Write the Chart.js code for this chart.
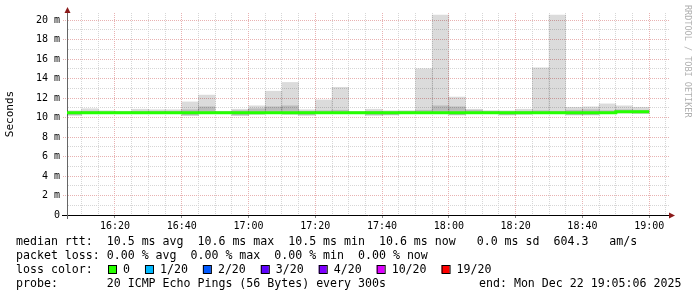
<!DOCTYPE html>
<html>
<head>
<meta charset="utf-8">
<script src="https://cdn.jsdelivr.net/npm/chart.js@4/dist/chart.umd.min.js"></script>
<style>
  body { margin: 0; background: #fff; }
  #wrap { width: 697px; height: 297px; }
</style>
</head>
<body>
<div id="wrap"><canvas id="smoke" width="697" height="297"></canvas></div>
<script>
// 5 minute steps, start time of each step
const binStart = ['16:05','16:10','16:15','16:20','16:25','16:30','16:35','16:40','16:45','16:50','16:55',
                  '17:00','17:05','17:10','17:15','17:20','17:25','17:30','17:35','17:40','17:45','17:50','17:55',
                  '18:00','18:05','18:10','18:15','18:20','18:25','18:30','18:35','18:40','18:45','18:50','18:55'];
// ms
const median  = [10.5,10.5,10.5,10.5,10.5,10.5,10.5,10.5,10.5,10.5,10.5,10.5,10.5,10.5,10.5,10.5,10.5,10.5,
                 10.5,10.5,10.5,10.5,10.5,10.5,10.5,10.5,10.5,10.5,10.5,10.5,10.5,10.5,10.5,10.6,10.6];
const pingMin = [10.2,10.4,10.4,10.4,10.4,10.4,10.4,10.2,10.4,10.4,10.2,10.3,10.4,10.3,10.2,10.4,10.4,10.4,
                 10.2,10.25,10.4,10.4,10.4,10.25,10.4,10.4,10.25,10.3,10.4,10.4,10.25,10.25,10.4,10.45,10.4];
const pingMax = [10.7,10.9,10.7,10.65,10.85,10.8,10.8,11.6,12.3,10.65,10.85,11.2,12.7,13.6,10.8,11.8,13.1,10.6,
                 10.85,10.7,10.7,15.0,20.5,12.1,10.85,10.7,10.7,10.85,15.1,20.5,11.05,11.1,11.4,11.2,11.05];
const innerLo = [10.3,10.45,10.45,10.45,10.45,10.45,10.45,10.25,10.45,10.45,10.25,10.4,10.45,10.4,10.3,10.45,10.45,10.45,
                 10.3,10.3,10.45,10.45,10.45,10.3,10.45,10.45,10.3,10.4,10.45,10.45,10.3,10.3,10.45,10.5,10.45];
const innerHi = [10.6,10.65,10.6,10.6,10.65,10.65,10.65,10.8,11.1,10.6,10.7,10.9,11.1,11.2,10.65,10.7,10.75,10.6,
                 10.65,10.6,10.65,10.75,11.2,11.1,10.75,10.65,10.6,10.65,10.7,10.65,10.75,10.8,10.7,10.8,10.75];

const yTickLabels = [0, 2, 4, 6, 8, 10, 12, 14, 16, 18, 20];
const xTickLabels = ['16:20','16:40','17:00','17:20','17:40','18:00','18:20','18:40','19:00'];

const rttLine  = 'median rtt:  10.5 ms avg  10.6 ms max  10.5 ms min  10.6 ms now   0.0 ms sd  604.3   am/s';
const lossLine = 'packet loss: 0.00 % avg  0.00 % max  0.00 % min  0.00 % now';
const lossLabels = ['0', '1/20', '2/20', '3/20', '4/20', '10/20', '19/20'];
const lossColors = ['#26ff00', '#00b8ff', '#0059ff', '#5e00ff', '#7e00ff', '#dd00ff', '#ff0000'];
const probeLine = 'probe:       20 ICMP Echo Pings (56 Bytes) every 300s';
const endLine   = 'end: Mon Dec 22 19:05:06 2025';

function toMin(s) {
  const p = s.split(':');
  return +p[0] * 60 + +p[1];
}
function fmt(v) {
  const h = Math.floor(v / 60), m = Math.round(v % 60);
  return h + ':' + (m < 10 ? '0' : '') + m;
}

const MONO = '"DejaVu Sans Mono", monospace';
const MGRID = '#e8b2b2';
const GRID = '#d6d6d6';

const medianPts = binStart.map((t, i) => ({ x: toMin(t), y: median[i] }));
medianPts.push({ x: toMin(binStart[binStart.length - 1]) + 5, y: median[median.length - 1] });

const decor = {
  id: 'decor',
  afterDraw(chart) {
    const ctx = chart.ctx;
    const a = chart.chartArea;
    ctx.save();
    // axis extensions + arrows
    ctx.strokeStyle = '#000';
    ctx.lineWidth = 1;
    ctx.beginPath();
    ctx.moveTo(62, a.bottom + 0.5); ctx.lineTo(a.left, a.bottom + 0.5);
    ctx.stroke();
    ctx.strokeStyle = '#666';
    ctx.beginPath();
    ctx.moveTo(a.left + 0.5, a.bottom); ctx.lineTo(a.left + 0.5, a.bottom + 4);
    ctx.moveTo(a.left + 0.5, a.top); ctx.lineTo(a.left + 0.5, a.top - 2);
    ctx.stroke();
    ctx.fillStyle = '#8b1a1a';
    ctx.beginPath();
    ctx.moveTo(a.left + 0.5, a.top - 6); ctx.lineTo(a.left - 2.5, a.top); ctx.lineTo(a.left + 3.5, a.top);
    ctx.closePath(); ctx.fill();
    ctx.beginPath();
    ctx.moveTo(a.right + 6, a.bottom + 0.5); ctx.lineTo(a.right, a.bottom - 2.5); ctx.lineTo(a.right, a.bottom + 3.5);
    ctx.closePath(); ctx.fill();

    // watermark
    ctx.save();
    ctx.translate(687, 5);
    ctx.rotate(Math.PI / 2);
    ctx.font = '8.5px ' + MONO;
    ctx.fillStyle = '#b0b0b0';
    ctx.textBaseline = 'middle';
    ctx.fillText('RRDTOOL / TOBI OETIKER', 0, 0);
    ctx.restore();

    // legend block
    ctx.font = '11.6px ' + MONO;
    ctx.fillStyle = '#000';
    ctx.textBaseline = 'middle';
    ctx.fillText(rttLine, 16, 241.5);
    ctx.fillText(lossLine, 16, 255.5);
    ctx.fillText('loss color:', 16, 269.5);
    ctx.fillText(probeLine, 16, 283.5);
    ctx.fillText(endLine, 479, 283.5);
    let x = 108;
    lossLabels.forEach((lab, i) => {
      ctx.fillStyle = lossColors[i];
      ctx.fillRect(x, 265, 8, 8);
      ctx.strokeStyle = '#000';
      ctx.strokeRect(x + 0.5, 265.5, 8, 8);
      ctx.fillStyle = '#000';
      ctx.fillText(lab, x + 15, 269.5);
      x += 15 + ctx.measureText(lab).width + 15;
    });
    ctx.restore();
  }
};

new Chart(document.getElementById('smoke'), {
  type: 'bar',
  data: {
    datasets: [
      {
        type: 'line',
        label: 'median rtt',
        data: medianPts,
        borderColor: '#26ff00',
        borderWidth: 3,
        pointRadius: 0,
        stepped: true,
        fill: false
      },
      {
        label: 'inner smoke',
        data: binStart.map((t, i) => ({ x: toMin(t) + 2.5, y: [innerLo[i], innerHi[i]] })),
        backgroundColor: 'rgba(0,0,0,0.15)',
        borderWidth: 0,
        grouped: false,
        barPercentage: 1,
        categoryPercentage: 1
      },
      {
        label: 'smoke',
        data: binStart.map((t, i) => ({ x: toMin(t) + 2.5, y: [pingMin[i], pingMax[i]] })),
        backgroundColor: 'rgba(0,0,0,0.14)',
        borderWidth: 0,
        grouped: false,
        barPercentage: 1,
        categoryPercentage: 1
      }
    ]
  },
  options: {
    responsive: false,
    animation: false,
    layout: { padding: { left: 0, right: 28, top: 13, bottom: 0 } },
    plugins: { legend: { display: false }, tooltip: { enabled: false } },
    scales: {
      x: {
        type: 'linear',
        min: 965.63,
        max: 1145.93,
        offset: false,
        afterFit(s) { s.height = 82; },
        border: { color: '#000', width: 1, dash: [1, 1] },
        grid: {
          offset: false,
          color: c => (c.tick && c.tick.value % 20 === 0) ? MGRID : GRID,
          tickColor: c => (c.tick && c.tick.value % 20 === 0) ? '#888' : 'transparent',
          tickLength: 3
        },
        ticks: {
          stepSize: 5,
          includeBounds: false,
          autoSkip: false,
          maxRotation: 0,
          padding: 2,
          color: '#000',
          font: { family: MONO, size: 10 },
          callback: v => xTickLabels.includes(fmt(v)) ? fmt(v) : ''
        }
      },
      y: {
        type: 'linear',
        min: 0,
        max: 20.72,
        afterFit(s) { s.width = 67; },
        border: { color: '#666', width: 1, dash: [1, 1] },
        grid: {
          color: c => (c.tick && c.tick.value % 2 === 0) ? MGRID : GRID,
          tickColor: c => (c.tick && c.tick.value % 2 === 0) ? MGRID : 'transparent',
          tickBorderDash: [1, 1],
          tickLength: 4
        },
        ticks: {
          stepSize: 1,
          includeBounds: false,
          autoSkip: false,
          padding: 3,
          color: '#000',
          font: { family: MONO, size: 10 },
          callback: v => yTickLabels.includes(v) ? (v === 0 ? '0' : v + ' m') : ''
        },
        title: {
          display: true,
          text: 'Seconds',
          color: '#000',
          font: { family: MONO, size: 11 },
          padding: { top: 4, bottom: 0 }
        }
      }
    }
  },
  plugins: [decor]
});
</script>
</body>
</html>
